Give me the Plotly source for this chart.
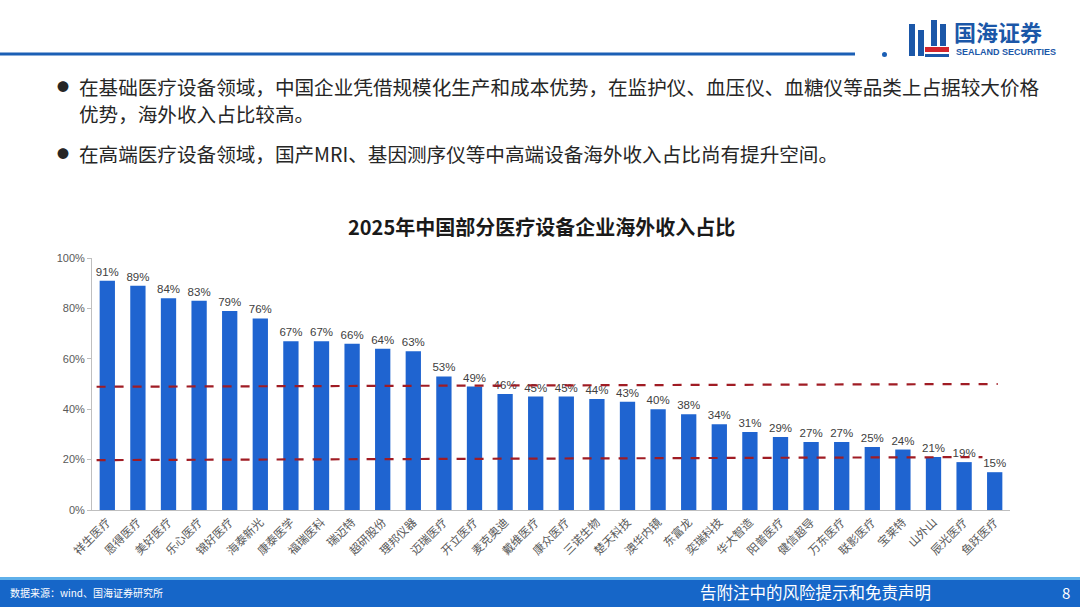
import plotly.graph_objects as go

# 2025年中国部分医疗设备企业海外收入占比 (%)
companies = ['祥生医疗', '恩得医疗', '美好医疗', '乐心医疗', '锦好医疗', '海泰新光',
             '康泰医学', '福瑞医科', '瑞迈特', '超研股份', '理邦仪器', '迈瑞医疗',
             '开立医疗', '麦克奥迪', '戴维医疗', '康众医疗', '三诺生物', '楚天科技',
             '澳华内镜', '东富龙', '奕瑞科技', '华大智造', '阳普医疗', '健信超导',
             '万东医疗', '联影医疗', '宝莱特', '山外山', '辰光医疗', '鱼跃医疗']
share = [91, 89, 84, 83, 79, 76, 67, 67, 66, 64, 63, 53, 49, 46, 45, 45, 44, 43,
         40, 38, 34, 31, 29, 27, 27, 25, 24, 21, 19, 15]

# dashed reference lines (start value, end value), as drawn on the slide
ref_upper = [48.9, 50.0]
ref_lower = [19.8, 21.0]

y_ticks = [0, 20, 40, 60, 80, 100]
y_tick_text = ['0%', '20%', '40%', '60%', '80%', '100%']

W, H = 1080, 607
L, R, T, B = 92, 70, 258, 97
PW, PH = W - L - R, H - T - B


def px(x):
    return (x - L) / PW


def py(y):
    return (H - B - y) / PH


FONT = 'Noto Sans CJK SC, Noto Sans, sans-serif'

fig = go.Figure()
fig.add_trace(go.Bar(
    x=companies, y=share,
    marker=dict(color='#1F64D0', line=dict(width=0)),
    width=0.5,
    text=[f'{v}%' for v in share],
    textposition='outside',
    constraintext='none',
    textfont=dict(size=11.5, color='#404040', family='Liberation Sans, Arial'),
    cliponaxis=False,
    hoverinfo='skip',
))

shapes = []
# reference lines
shapes.append(dict(type='line', xref='x', yref='y', x0=-0.35, x1=29.1,
                   y0=ref_upper[0], y1=ref_upper[1],
                   line=dict(color='#A01C24', width=2.2, dash='dash')))
shapes.append(dict(type='line', xref='x', yref='y', x0=-0.35, x1=28.6,
                   y0=ref_lower[0], y1=ref_lower[1],
                   line=dict(color='#A01C24', width=2.2, dash='dash')))

# header rule
shapes.append(dict(type='line', xref='paper', yref='paper', x0=px(0), x1=px(855),
                   y0=py(54), y1=py(54), line=dict(color='#1B5FB5', width=3)))
shapes.append(dict(type='circle', xref='paper', yref='paper', x0=px(882), x1=px(887),
                   y0=py(52), y1=py(57), fillcolor='#1B5FB5', line=dict(width=0)))

# logo icon
for x0, x1, y0, y1 in [(909, 915, 24, 56), (918, 924, 30, 56), (931, 937, 20, 46),
                       (940, 946, 24, 46)]:
    shapes.append(dict(type='rect', xref='paper', yref='paper', x0=px(x0), x1=px(x1),
                       y0=py(y1), y1=py(y0), fillcolor='#1B57A8', line=dict(width=0)))
shapes.append(dict(type='rect', xref='paper', yref='paper', x0=px(925), x1=px(949),
                   y0=py(52), y1=py(47), fillcolor='#D3252C', line=dict(width=0)))
shapes.append(dict(type='rect', xref='paper', yref='paper', x0=px(925), x1=px(949),
                   y0=py(57), y1=py(54), fillcolor='#1B57A8', line=dict(width=0)))

# footer bar
shapes.append(dict(type='rect', xref='paper', yref='paper', x0=px(0), x1=px(W),
                   y0=py(H), y1=py(578), fillcolor='#1666C8', line=dict(width=0),
                   layer='below'))
shapes.append(dict(type='rect', xref='paper', yref='paper', x0=px(0), x1=px(W),
                   y0=py(580), y1=py(577), fillcolor='#5FB0EA', line=dict(width=0),
                   layer='below'))

ann = []


def txt(x, y, s, size, color, anchor='left', bold=False, family=FONT, align='left'):
    ann.append(dict(xref='paper', yref='paper', x=px(x), y=py(y), text=f'<b>{s}</b>' if bold else s,
                    showarrow=False, xanchor=anchor, yanchor='middle', align=align,
                    font=dict(size=size, color=color, family=family)))


txt(952, 31, '国海证券', 22, '#1B57A8', bold=True)
txt(954, 52, 'SEALAND SECURITIES', 9, '#1B57A8', bold=True, family='Liberation Sans, Arial')

txt(55, 86, '●', 12, '#262626')
txt(77, 86, '在基础医疗设备领域，中国企业凭借规模化生产和成本优势，在监护仪、血压仪、血糖仪等品类上占据较大价格',
    19.6, '#262626')
txt(77, 113, '优势，海外收入占比较高。', 19.6, '#262626')
txt(55, 153, '●', 12, '#262626')
txt(77, 153, '在高端医疗设备领域，国产MRI、基因测序仪等中高端设备海外收入占比尚有提升空间。', 19.6, '#262626')

txt(541, 226, '2025年中国部分医疗设备企业海外收入占比', 20, '#1a1a1a', anchor='center', bold=True)

txt(8, 592, '数据来源：wind、国海证券研究所', 10, '#FFFFFF')
txt(815, 592, '告附注中的风险提示和免责声明', 16.5, '#FFFFFF', anchor='center')
txt(1066, 592, '8', 15, '#FFFFFF', anchor='center')

fig.update_layout(
    width=W, height=H,
    margin=dict(l=L, r=R, t=T, b=B, autoexpand=False),
    paper_bgcolor='white', plot_bgcolor='white',
    showlegend=False,
    bargap=0.5,
    shapes=shapes,
    annotations=ann,
    font=dict(family=FONT),
    xaxis=dict(
        tickangle=-45,
        tickfont=dict(size=11.5, color='#595959'),
        showline=True, linecolor='#BFBFBF', linewidth=1,
        showgrid=False, ticks='',
        range=[-0.5, 29.5],
    ),
    yaxis=dict(
        range=[0, 100],
        tickmode='array',
        tickvals=y_ticks,
        ticktext=y_tick_text,
        tickfont=dict(size=11, color='#595959', family='Liberation Sans, Arial'),
        showline=True, linecolor='#BFBFBF', linewidth=1,
        ticks='outside', ticklen=4, tickcolor='#BFBFBF',
        showgrid=False, zeroline=False,
    ),
)

fig.write_html('out.html', config={'displayModeBar': False},
               post_script="document.body.style.margin='0';")
